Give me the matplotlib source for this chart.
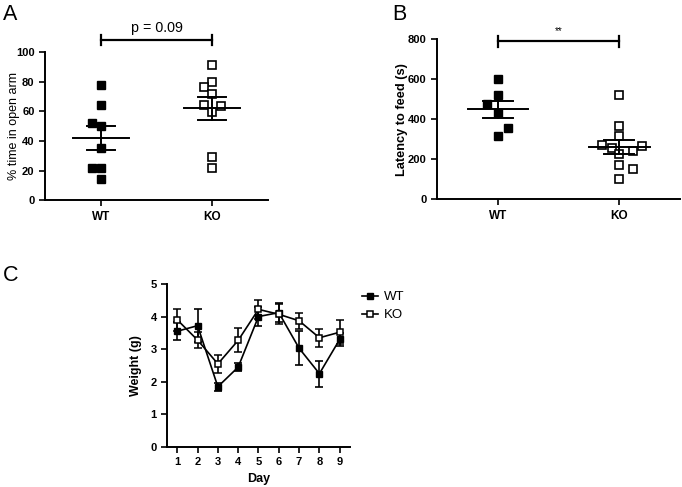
import numpy as np
import matplotlib.pyplot as plt
from matplotlib.lines import Line2D

plt.rcParams['font.family'] = ['Liberation Sans', 'DejaVu Sans']

# Panel A: % time in open arm
groups = ['WT', 'KO']
a_wt = [78, 64, 52, 50, 35, 22, 22, 14]
a_wt_dx = [0, 0, -0.08, 0, 0, -0.08, 0, 0]
a_ko = [91, 80, 76.5, 72, 64.5, 63.5, 59.5, 29, 22]
a_ko_dx = [0, 0, -0.07, 0, -0.07, 0.08, 0, 0, 0]

# Panel B: latency to feed (s)
b_wt = [600, 520, 475, 430, 355, 315]
b_wt_dx = [0, 0, -0.09, 0, 0.08, 0]
b_ko = [520, 365, 315, 270, 255, 225, 240, 265, 170, 150, 100]
b_ko_dx = [0, 0, 0, -0.14, -0.06, 0, 0.11, 0.19, 0, 0.11, 0]

# Panel C: weight over days
days = [1, 2, 3, 4, 5, 6, 7, 8, 9]
c_wt = [3.55, 3.72, 1.85, 2.45, 4.0, 4.12, 3.03, 2.25, 3.3]
c_wt_err = [0.28, 0.5, 0.12, 0.13, 0.3, 0.3, 0.53, 0.4, 0.2]
c_ko = [3.9, 3.28, 2.55, 3.27, 4.22, 4.07, 3.87, 3.35, 3.52]
c_ko_err = [0.33, 0.25, 0.28, 0.37, 0.28, 0.3, 0.24, 0.28, 0.37]


def style_axes(ax, xsize=8, ysize=8):
    for s in ['top', 'right']:
        ax.spines[s].set_visible(False)
    for s in ['left', 'bottom']:
        ax.spines[s].set_linewidth(1.4)
    ax.tick_params(width=1.2, length=4)
    ax.tick_params(axis='x', labelsize=xsize)
    ax.tick_params(axis='y', labelsize=ysize)
    for lab in ax.get_xticklabels() + ax.get_yticklabels():
        lab.set_fontweight('bold')


def scatter_panel(ax, wt, wt_dx, ko, ko_dx):
    ms = 5.5
    ax.plot(1 + np.array(wt_dx), wt, 's', color='black', ms=ms, clip_on=False)
    ax.plot(2 + np.array(ko_dx), ko, 's', mfc='white', mec='black', mew=1.2,
            ms=ms, clip_on=False)
    for x, vals in [(1, wt), (2, ko)]:
        v = np.array(vals, dtype=float)
        m = v.mean()
        sem = v.std(ddof=1) / np.sqrt(len(v))
        ax.plot([x - 0.25, x + 0.25], [m, m], color='black', lw=1.4)
        ax.plot([x - 0.125, x + 0.125], [m + sem, m + sem], color='black', lw=1.4)
        ax.plot([x - 0.125, x + 0.125], [m - sem, m - sem], color='black', lw=1.4)
        ax.plot([x, x], [m - sem, m + sem], color='black', lw=1.4)
    ax.set_xlim(0.5, 2.5)
    ax.set_xticks([1, 2])
    ax.set_xticklabels(groups)


fig = plt.figure(figsize=(6.82, 4.87), dpi=100)

# A
axA = fig.add_axes([0.066, 0.589, 0.327, 0.304])
scatter_panel(axA, a_wt, a_wt_dx, a_ko, a_ko_dx)
axA.set_ylim(0, 100)
axA.set_yticks([0, 20, 40, 60, 80, 100])
axA.set_ylabel('% time in open arm', fontsize=9)
axA.yaxis.set_label_coords(-0.112, 0.5)
style_axes(axA, xsize=8.5)
axA.plot([1, 2], [108, 108], color='black', lw=1.6, clip_on=False)
axA.plot([1, 1], [104.5, 111.5], color='black', lw=1.6, clip_on=False)
axA.plot([2, 2], [104.5, 111.5], color='black', lw=1.6, clip_on=False)
axA.text(1.5, 111.5, 'p = 0.09', ha='center', va='bottom', fontsize=10.3,
         clip_on=False)

# B
axB = fig.add_axes([0.641, 0.591, 0.356, 0.329])
scatter_panel(axB, b_wt, b_wt_dx, b_ko, b_ko_dx)
axB.set_ylim(0, 800)
axB.set_yticks([0, 200, 400, 600, 800])
axB.set_ylabel('Latency to feed (s)', fontsize=9.2, fontweight='semibold')
axB.yaxis.set_label_coords(-0.12, 0.5)
style_axes(axB, xsize=8.5)
axB.plot([1, 2], [788, 788], color='black', lw=1.6, clip_on=False)
axB.plot([1, 1], [760, 816], color='black', lw=1.6, clip_on=False)
axB.plot([2, 2], [760, 816], color='black', lw=1.6, clip_on=False)
axB.text(1.5, 812, '**', ha='center', va='bottom', fontsize=7, clip_on=False)

# C
axC = fig.add_axes([0.245, 0.082, 0.268, 0.335])
axC.errorbar(days, c_wt, yerr=c_wt_err, fmt='-s', color='black', ms=5,
             lw=1.2, capsize=3, capthick=1.2, elinewidth=1.2)
axC.errorbar(days, c_ko, yerr=c_ko_err, fmt='-s', color='black', mfc='white',
             mec='black', mew=1.1, ms=5, lw=1.2, capsize=3, capthick=1.2,
             elinewidth=1.2)
axC.set_xlim(0.5, 9.5)
axC.set_ylim(0, 5)
axC.set_xticks(days)
axC.set_yticks([0, 1, 2, 3, 4, 5])
axC.set_xlabel('Day', fontsize=9, fontweight='bold')
axC.set_ylabel('Weight (g)', fontsize=9, fontweight='bold')
axC.yaxis.set_label_coords(-0.135, 0.5)
style_axes(axC, xsize=8, ysize=8)
handles = [
    Line2D([], [], color='black', marker='s', ms=5, lw=1.2),
    Line2D([], [], color='black', marker='s', mfc='white', mec='black',
           mew=1.1, ms=5, lw=1.2),
]
axC.legend(handles, groups, loc='upper left', bbox_to_anchor=(1.0, 1.03),
           frameon=False, fontsize=9.5, handlelength=1.2, handletextpad=0.5,
           labelspacing=0.45)

fig.text(0.004, 0.971, 'A', fontsize=15.5, va='center')
fig.text(0.575, 0.971, 'B', fontsize=15.5, va='center')
fig.text(0.004, 0.435, 'C', fontsize=15.5, va='center')

fig.savefig('out.png', dpi=100)
